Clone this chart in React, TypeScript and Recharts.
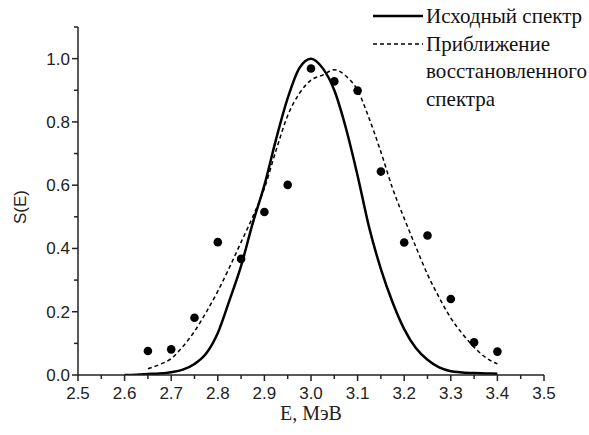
import React from 'react';
import { ComposedChart, Line, Scatter, XAxis, YAxis, Legend } from 'recharts';

const solidE = [2.6, 2.625, 2.65, 2.675, 2.7, 2.725, 2.75, 2.775, 2.8, 2.825, 2.85, 2.875, 2.9, 2.925, 2.95, 2.975, 3.0, 3.025, 3.05, 3.075, 3.1, 3.125, 3.15, 3.175, 3.2, 3.225, 3.25, 3.275, 3.3, 3.325, 3.35, 3.375, 3.4];
const solidS = [0.0, 0.001, 0.003, 0.005, 0.009, 0.017, 0.035, 0.068, 0.133, 0.236, 0.345, 0.48, 0.6, 0.745, 0.875, 0.97, 1.0, 0.97, 0.9, 0.78, 0.63, 0.465, 0.335, 0.23, 0.145, 0.085, 0.048, 0.024, 0.012, 0.008, 0.006, 0.005, 0.004];

const dashE = [2.65, 2.675, 2.7, 2.725, 2.75, 2.775, 2.8, 2.825, 2.85, 2.875, 2.9, 2.925, 2.95, 2.975, 3.0, 3.025, 3.05, 3.075, 3.1, 3.125, 3.15, 3.175, 3.2, 3.225, 3.25, 3.275, 3.3, 3.325, 3.35, 3.375, 3.4];
const dashS = [0.02, 0.033, 0.052, 0.09, 0.138, 0.198, 0.265, 0.34, 0.42, 0.5, 0.59, 0.71, 0.82, 0.89, 0.932, 0.948, 0.965, 0.945, 0.9, 0.81, 0.705, 0.59, 0.495, 0.405, 0.318, 0.245, 0.18, 0.13, 0.088, 0.055, 0.035];

const pointE = [2.65, 2.7, 2.75, 2.8, 2.85, 2.9, 2.95, 3.0, 3.05, 3.1, 3.15, 3.2, 3.25, 3.3, 3.35, 3.4];
const pointS = [0.076, 0.081, 0.181, 0.42, 0.367, 0.515, 0.601, 0.969, 0.928, 0.899, 0.643, 0.419, 0.441, 0.24, 0.103, 0.074];

const xTicks = [2.5, 2.55, 2.6, 2.65, 2.7, 2.75, 2.8, 2.85, 2.9, 2.95, 3.0, 3.05, 3.1, 3.15, 3.2, 3.25, 3.3, 3.35, 3.4, 3.45, 3.5];
const yTicks = [0, 0.1, 0.2, 0.3, 0.4, 0.5, 0.6, 0.7, 0.8, 0.9, 1.0, 1.1];

const legendLabels = ['Исходный спектр', 'Приближение', 'восстановленного', 'спектра'];
const xLabel = 'E, МэВ';
const yLabel = 'S(E)';

const solidData = solidE.map((E, i) => ({ E, S: solidS[i] }));
const dashData = dashE.map((E, i) => ({ E, S: dashS[i] }));
const pointData = pointE.map((E, i) => ({ E, S: pointS[i] }));

const AXIS = '#222';
const SANS = 'Liberation Sans';
const SERIF = 'Times New Roman';

const XTick = (props: any) => {
  const { x, y, index } = props;
  const major = index % 2 === 0;
  return (
    <g>
      <line x1={x} x2={x} y1={y} y2={y + (major ? 6 : 4)} stroke={AXIS} strokeWidth={1.5} />
      {major && (
        <text x={x} y={y + 24} textAnchor="middle" fontFamily={SANS} fontSize={17} fill="#222">
          {xTicks[index].toFixed(1)}
        </text>
      )}
    </g>
  );
};

const YTick = (props: any) => {
  const { x, y, index } = props;
  const major = index % 2 === 0;
  return (
    <g>
      <line x1={x} x2={x - (major ? 6 : 4)} y1={y} y2={y} stroke={AXIS} strokeWidth={1.5} />
      {major && (
        <text x={x - 8} y={y + 6} textAnchor="end" fontFamily={SANS} fontSize={17} fill="#222">
          {yTicks[index].toFixed(1)}
        </text>
      )}
    </g>
  );
};

const LegendContent = () => (
  <svg width={216} height={112}>
    <line x1={0} x2={50} y1={13} y2={13} stroke="#000" strokeWidth={2.5} />
    <line x1={0} x2={50} y1={41} y2={41} stroke="#000" strokeWidth={1.5} strokeDasharray="4 3" />
    {legendLabels.map((t, i) => (
      <text key={t} x={53} y={20 + i * 27.5} fontFamily={SERIF} fontSize={21} fill="#111">{t}</text>
    ))}
  </svg>
);

const Dot = (props: any) => {
  const { cx, cy } = props;
  return <circle cx={cx} cy={cy} r={4.3} fill="#000" />;
};

export default function App() {
  return (
    <div style={{ position: 'absolute', left: 0, top: 0, width: 589, height: 435, background: '#fff' }}>
      <ComposedChart width={589} height={435} margin={{ top: 27, right: 45, bottom: 0, left: 18 }}>
        <XAxis
          dataKey="E"
          type="number"
          domain={[2.5, 3.5]}
          ticks={xTicks}
          interval={0}
          allowDataOverflow
          height={60}
          tickSize={0}
          tickMargin={0}
          tickLine={false}
          axisLine={{ stroke: AXIS, strokeWidth: 1.5 }}
          tick={<XTick />}
        />
        <YAxis
          dataKey="S"
          type="number"
          domain={[0, 1.1]}
          ticks={yTicks}
          interval={0}
          allowDataOverflow
          width={60}
          tickSize={0}
          tickMargin={0}
          tickLine={false}
          axisLine={{ stroke: AXIS, strokeWidth: 1.5 }}
          tick={<YTick />}
        />
        <Line data={solidData} dataKey="S" type="monotone" stroke="#000" strokeWidth={2.5} dot={false} isAnimationActive={false} legendType="none" />
        <Line data={dashData} dataKey="S" type="monotone" stroke="#000" strokeWidth={1.5} strokeDasharray="4 3" dot={false} isAnimationActive={false} legendType="none" />
        <Scatter data={pointData} dataKey="S" fill="#000" shape={<Dot />} isAnimationActive={false} legendType="none" />
        <Legend
          layout="horizontal"
          verticalAlign="middle"
          align="center"
          content={<LegendContent />}
          wrapperStyle={{ position: 'absolute', left: 373, top: 3, width: 216 }}
        />
        <text x={22} y={207} transform="rotate(-90 22 207)" textAnchor="middle" dominantBaseline="middle" fontFamily={SANS} fontSize={17} fill="#222">{yLabel}</text>
        <text x={311} y={420} textAnchor="middle" fontFamily={SERIF} fontSize={20} fill="#222">{xLabel}</text>
      </ComposedChart>
    </div>
  );
}
